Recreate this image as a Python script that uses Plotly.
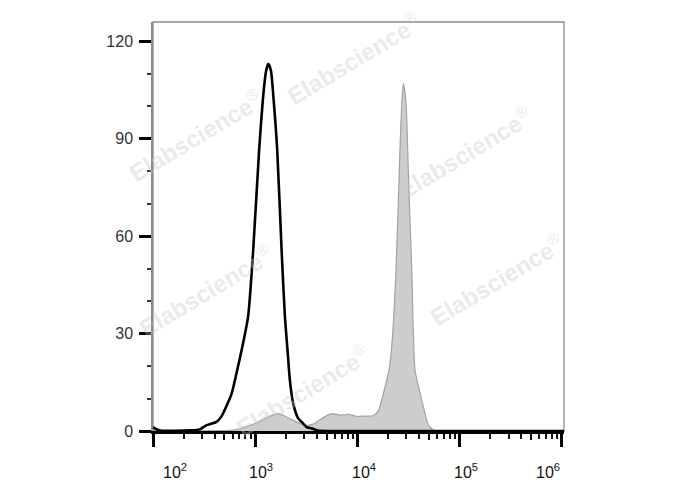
import math
import plotly.graph_objects as go

# ---- data ----
# Black open histogram (control)
control_x = [100, 109, 122, 162, 229, 286, 331, 417, 468, 501, 589, 656, 735, 851, 955,
             1091, 1186, 1271, 1337, 1422, 1514, 1641, 1811, 1950, 2070, 2183, 2350,
             2630, 2924, 3177, 3664, 3981, 4295, 10000, 100000, 1047000]
control_y = [1.2, 0.5, 0.1, 0.1, 0.2, 0.5, 1.75, 2.8, 4.5, 6.4, 11.6, 17.8, 24.8, 35.1, 55.6,
             86.4, 101.8, 110.4, 113.0, 111.0, 101.8, 86.4, 55.6, 35.3, 24.8, 15.6, 8.5,
             3.9, 2.4, 1.2, 0.7, 0.2, 0.1, 0.0, 0.0, 0.0]

# Grey filled histogram (stained sample)
stained_x = [316, 525, 706, 1030, 1337, 1675, 2028, 2535, 3177, 3690, 4457, 5585, 6745,
             8128, 9817, 11830, 14290, 15995, 17910, 20320, 21630, 23820, 25640, 27100,
             28120, 29850, 31410, 33960, 36560, 41020, 45810, 49320, 53330, 57540]
stained_y = [0.0, 0.1, 0.7, 2.5, 4.3, 5.35, 4.3, 2.8, 1.75, 2.1, 3.8, 5.35, 4.9,
             5.1, 4.5, 4.6, 4.7, 6.2, 11.5, 18.7, 26.0, 49.4, 80.2, 100.7,
             106.9, 100.7, 80.2, 49.4, 18.7, 11.5, 5.35, 1.75, 0.7, 0.0]

x_tick_vals = [1e2, 1e3, 1e4, 1e5, 1e6]
x_tick_text = ["10<sup>2</sup>", "10<sup>3</sup>", "10<sup>4</sup>", "10<sup>5</sup>", "10<sup>6</sup>"]
y_tick_vals = [0, 30, 60, 90, 120]
y_tick_text = ["0", "30", "60", "90", "120"]
watermark = "<b>Elabscience</b><sup>®</sup>"

# ---- layout geometry (page body has an 8px margin) ----
PAGE_OFF = 8
W, H = 688 - PAGE_OFF, 490 - PAGE_OFF
L_M, R_M, T_M, B_M = 153 - PAGE_OFF, 124, 22 - PAGE_OFF, 59
plot_w = W - L_M - R_M
plot_h = H - T_M - B_M

FONT = "Liberation Sans, Arial, sans-serif"
X_RANGE = [2, 6.02]

fig = go.Figure()

fig.add_trace(go.Scatter(
    x=stained_x, y=stained_y, mode="lines",
    line=dict(color="#a3a3a3", width=1.2, shape="spline", smoothing=0.6),
    fill="tozeroy", fillcolor="#cdcdcd", hoverinfo="skip", showlegend=False,
))
fig.add_trace(go.Scatter(
    x=control_x, y=control_y, mode="lines",
    line=dict(color="#000000", width=2.6, shape="spline", smoothing=0.6),
    hoverinfo="skip", showlegend=False,
))
# invisible trace to carry the secondary (mid-decade tick) axis
fig.add_trace(go.Scatter(x=[1e3], y=[0], xaxis="x2", mode="markers",
                         marker=dict(opacity=0), hoverinfo="skip", showlegend=False))

minor_x = [k * 10 ** d for d in range(2, 6) for k in (2, 3, 4, 6, 7, 8, 9)]
mid_x = [5 * 10 ** d for d in range(2, 6)]

fig.update_layout(
    xaxis=dict(
        type="log", range=X_RANGE,
        showgrid=False, zeroline=False,
        showline=True, linecolor="#000000", linewidth=3,
        tickmode="array", tickvals=x_tick_vals, showticklabels=False,
        ticks="outside", ticklen=13, tickwidth=2.5, tickcolor="#000000",
        minor=dict(tickmode="array", tickvals=minor_x, ticks="outside",
                   ticklen=5, tickwidth=1.5, tickcolor="#111111", showgrid=False),
    ),
    xaxis2=dict(
        type="log", range=X_RANGE, overlaying="x", anchor="y", side="bottom",
        showgrid=False, zeroline=False, showline=False,
        tickmode="array", tickvals=mid_x, showticklabels=False,
        ticks="outside", ticklen=8, tickwidth=1.5, tickcolor="#111111",
    ),
    yaxis=dict(
        range=[0, 125.85],
        showgrid=False, zeroline=False,
        showline=True, linecolor="#8a8a8a", linewidth=1.5,
        tickmode="array", tickvals=y_tick_vals, ticktext=y_tick_text,
        ticks="outside", ticklen=12, tickwidth=2.5, tickcolor="#000000",
        ticklabelstandoff=3,
        tickfont=dict(family=FONT, size=16, color="#333333"),
        minor=dict(dtick=10, ticks="outside", ticklen=4, tickwidth=1.5,
                   tickcolor="#333333", showgrid=False),
    ),
)

# thin grey frame (top / right)
fig.add_shape(type="rect", xref="paper", yref="paper", x0=0, x1=1, y0=0, y1=1,
              line=dict(color="#8a8a8a", width=1.3), layer="below")

# x tick labels (placed like the reference: edge labels pulled inwards)
label_shift = [22, 6, 7, 6, -14]
for v, t, s in zip(x_tick_vals, x_tick_text, label_shift):
    fig.add_annotation(x=math.log10(v), y=0, xref="x", yref="paper",
                       text=t, showarrow=False, xanchor="center", yanchor="top",
                       xshift=s, yshift=-28,
                       font=dict(family=FONT, size=16, color="#111111"))

# watermarks (centres in page pixels)
wm_centers = [(354, 58), (196, 135), (465, 152), (206, 290), (497, 279), (303, 390)]
for px, py in wm_centers:
    fig.add_annotation(x=(px - 153) / plot_w, y=(431 - py) / plot_h,
                       xref="paper", yref="paper", text=watermark, showarrow=False,
                       textangle=-31, xanchor="center", yanchor="middle",
                       font=dict(family=FONT, size=24, color="rgba(200,200,200,0.38)"))

fig.update_layout(
    width=W, height=H,
    margin=dict(l=L_M, r=R_M, t=T_M, b=B_M, pad=0),
    paper_bgcolor="#ffffff", plot_bgcolor="#ffffff",
    showlegend=False,
)

fig.write_html("out.html")
